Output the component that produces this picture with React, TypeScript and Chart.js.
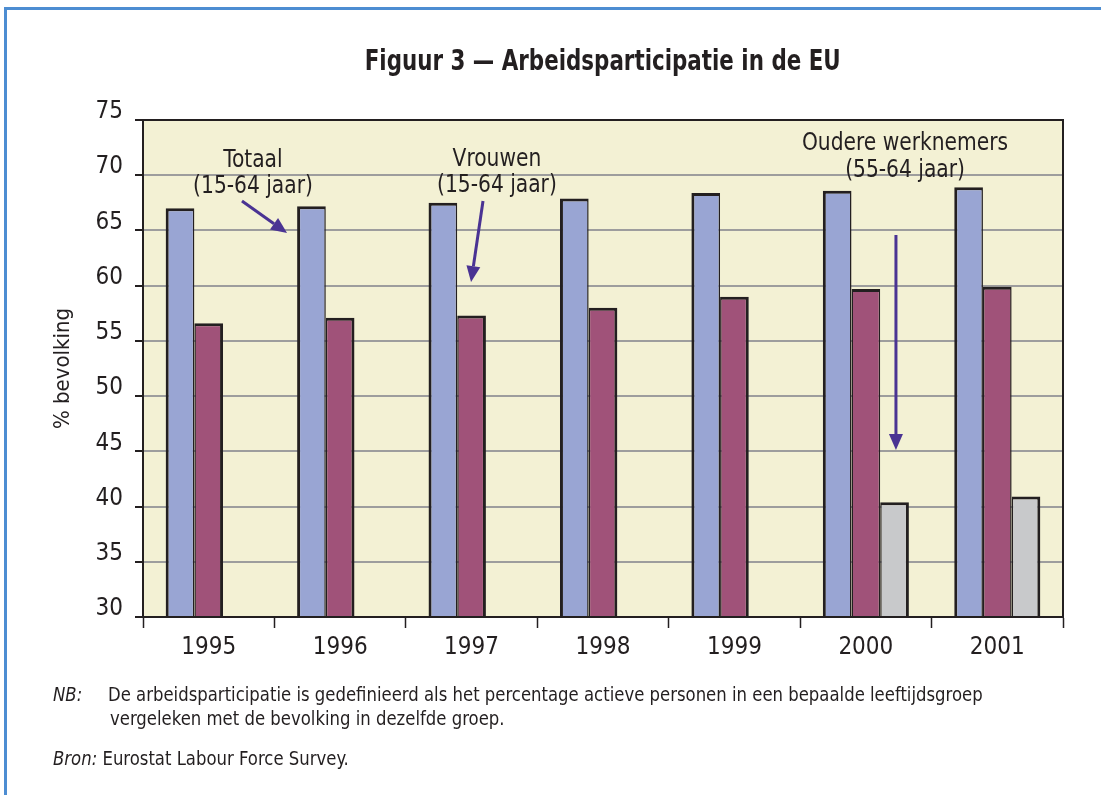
import React, { useEffect, useRef } from 'react';
import { Chart, registerables } from 'chart.js';

Chart.register(...registerables);

const FONT = "'Liberation Sans Narrow', 'DejaVu Sans Condensed', 'Open Sans', Arial, sans-serif";
const INK = '#231f20';

// ---- data ----
const years = ['1995', '1996', '1997', '1998', '1999', '2000', '2001'];
const totaal = [67.0, 67.2, 67.5, 67.9, 68.4, 68.6, 68.9];
const vrouwen = [56.6, 57.1, 57.3, 58.0, 59.0, 59.7, 59.9];
const oudere = [null, null, null, null, null, 40.4, 40.9];
const yMin = 30;
const yMax = 75;
const yStep = 5;

const titleText = 'Figuur 3 — Arbeidsparticipatie in de EU';
const yTitle = '% bevolking';

// annotation labels: category index (fractional) and baseline values
const noteTotaal = ['Totaal', '(15-64 jaar)'];
const noteVrouwen = ['Vrouwen', '(15-64 jaar)'];
const noteOudere = ['Oudere werknemers', '(55-64 jaar)'];

const notes = [
  { lines: noteTotaal, x: 0.337, y: [70.74, 68.4] },
  { lines: noteVrouwen, x: 2.193, y: [70.83, 68.48] },
  { lines: noteOudere, x: 5.298, y: [72.28, 69.84] },
];
const arrows = [
  { x1: 0.253, y1: 67.67, x2: 0.596, y2: 64.77 },
  { x1: 2.087, y1: 67.67, x2: 1.996, y2: 60.33 },
  { x1: 5.229, y1: 64.59, x2: 5.229, y2: 45.12 },
];

const decorPlugin = {
  id: 'decor',
  beforeDraw(chart: any) {
    const { ctx, chartArea } = chart;
    const { left, top, width, height } = chartArea;
    ctx.save();
    ctx.fillStyle = '#f3f1d4';
    ctx.fillRect(left, top, width, height);
    ctx.restore();
  },
  afterDatasetsDraw(chart: any) {
    const { ctx, chartArea, scales } = chart;
    const { left, top, width, height } = chartArea;
    ctx.save();
    ctx.strokeStyle = INK;
    ctx.lineWidth = 2;
    ctx.strokeRect(left, top, width, height);

    const xs = scales.x;
    const ys = scales.y;
    ctx.fillStyle = INK;
    ctx.font = `25px ${FONT}`;
    ctx.textAlign = 'center';
    ctx.textBaseline = 'alphabetic';
    notes.forEach((n) => {
      const px = xs.getPixelForValue(n.x);
      n.lines.forEach((line, i) => {
        ctx.save();
        ctx.translate(px, ys.getPixelForValue(n.y[i]));
        ctx.scale(0.9, 1);
        ctx.fillText(line, 0, 0);
        ctx.restore();
      });
    });

    ctx.strokeStyle = '#4a3393';
    ctx.fillStyle = '#4a3393';
    ctx.lineWidth = 3;
    arrows.forEach((a) => {
      const x1 = xs.getPixelForValue(a.x1);
      const y1 = ys.getPixelForValue(a.y1);
      const x2 = xs.getPixelForValue(a.x2);
      const y2 = ys.getPixelForValue(a.y2);
      const ang = Math.atan2(y2 - y1, x2 - x1);
      const head = 16;
      const hw = 7;
      const bx = x2 - head * Math.cos(ang);
      const by = y2 - head * Math.sin(ang);
      ctx.beginPath();
      ctx.moveTo(x1, y1);
      ctx.lineTo(bx, by);
      ctx.stroke();
      ctx.beginPath();
      ctx.moveTo(x2, y2);
      ctx.lineTo(bx + hw * Math.sin(ang), by - hw * Math.cos(ang));
      ctx.lineTo(bx - hw * Math.sin(ang), by + hw * Math.cos(ang));
      ctx.closePath();
      ctx.fill();
    });
    ctx.restore();
  },
};

export default function App() {
  const ref = useRef<HTMLCanvasElement | null>(null);

  useEffect(() => {
    if (!ref.current) return;
    const chart = new Chart(ref.current, {
      type: 'bar',
      data: {
        labels: years,
        datasets: [
          {
            label: 'Totaal (15-64 jaar)',
            data: totaal,
            backgroundColor: '#99a5d3',
            borderColor: INK,
            borderWidth: { left: 3, top: 3, right: 1.5, bottom: 0 },
          },
          {
            label: 'Vrouwen (15-64 jaar)',
            data: vrouwen,
            backgroundColor: '#a05279',
            borderColor: INK,
            borderWidth: (c: any) => ({
              left: 1.5,
              top: 3,
              right: oudere[c.dataIndex] == null ? 3 : 1.5,
              bottom: 0,
            }),
          },
          {
            label: 'Oudere werknemers (55-64 jaar)',
            data: oudere,
            backgroundColor: '#c8c9cb',
            borderColor: INK,
            borderWidth: { left: 1.5, top: 3, right: 3, bottom: 0 },
          },
        ],
      },
      options: {
        responsive: false,
        animation: false,
        devicePixelRatio: 1,
        layout: { padding: { left: 40, top: 120, right: 38, bottom: 118 } },
        datasets: {
          bar: { barPercentage: 1, categoryPercentage: 0.655, borderSkipped: 'start' },
        },
        plugins: {
          legend: { display: false },
          title: { display: false },
          tooltip: { enabled: false },
        },
        scales: {
          x: {
            ticks: {
              color: INK,
              font: { size: 24, family: FONT },
              padding: 5,
              maxRotation: 0,
              autoSkip: false,
            },
            grid: {
              display: true,
              drawOnChartArea: false,
              drawTicks: true,
              tickLength: 11,
              tickColor: INK,
              tickWidth: 1.5,
              offset: true,
            },
            border: { display: true, color: INK, width: 2 },
            afterFit: (s: any) => {
              s.height = 60;
            },
          },
          y: {
            min: yMin,
            max: yMax,
            ticks: {
              stepSize: yStep,
              color: INK,
              font: { size: 24, family: FONT },
              padding: 12,
              labelOffset: -8,
            },
            grid: {
              color: '#9d9d9d',
              lineWidth: 2,
              tickLength: 8,
              tickColor: INK,
              tickWidth: 2,
            },
            border: { display: true, color: INK, width: 2 },
            title: {
              display: true,
              text: yTitle,
              color: INK,
              font: { size: 22, family: FONT },
              padding: { top: 10, bottom: 0 },
            },
            afterFit: (s: any) => {
              s.width = 103;
            },
          },
        },
      },
      plugins: [decorPlugin],
    });
    return () => chart.destroy();
  }, []);

  const txt: React.CSSProperties = {
    position: 'absolute',
    fontFamily: FONT,
    fontSize: 20,
    lineHeight: '20px',
    color: INK,
    whiteSpace: 'nowrap',
    transformOrigin: '0 0',
    transform: 'scaleX(0.917)',
  };

  return (
    <div
      style={{
        position: 'absolute',
        left: 0,
        top: 0,
        width: 1101,
        height: 795,
        background: '#ffffff',
        overflow: 'hidden',
      }}
    >
      <canvas ref={ref} width={1101} height={795} style={{ position: 'absolute', left: 0, top: 0 }} />
      <div
        style={{
          position: 'absolute',
          left: 4,
          top: 7,
          width: 1200,
          height: 900,
          borderTop: '3px solid #4d8dd2',
          borderLeft: '3px solid #4d8dd2',
          pointerEvents: 'none',
        }}
      />
      <div
        style={{
          position: 'absolute',
          left: 143,
          width: 920,
          top: 47,
          textAlign: 'center',
          fontFamily: FONT,
          fontWeight: 'bold',
          fontSize: 28,
          lineHeight: '28px',
          color: INK,
          whiteSpace: 'nowrap',
          transform: 'scaleX(0.85)',
          transformOrigin: '458px 0',
        }}
      >
        {titleText}
      </div>
      <div style={{ ...txt, left: 53, top: 684, fontStyle: 'italic' }}>NB:</div>
      <div style={{ ...txt, left: 108, top: 684 }}>
        De arbeidsparticipatie is gedefinieerd als het percentage actieve personen in een bepaalde leeftijdsgroep
      </div>
      <div style={{ ...txt, left: 110, top: 708 }}>vergeleken met de bevolking in dezelfde groep.</div>
      <div style={{ ...txt, left: 53, top: 748 }}>
        <span style={{ fontStyle: 'italic' }}>Bron:</span> Eurostat Labour Force Survey.
      </div>
    </div>
  );
}
